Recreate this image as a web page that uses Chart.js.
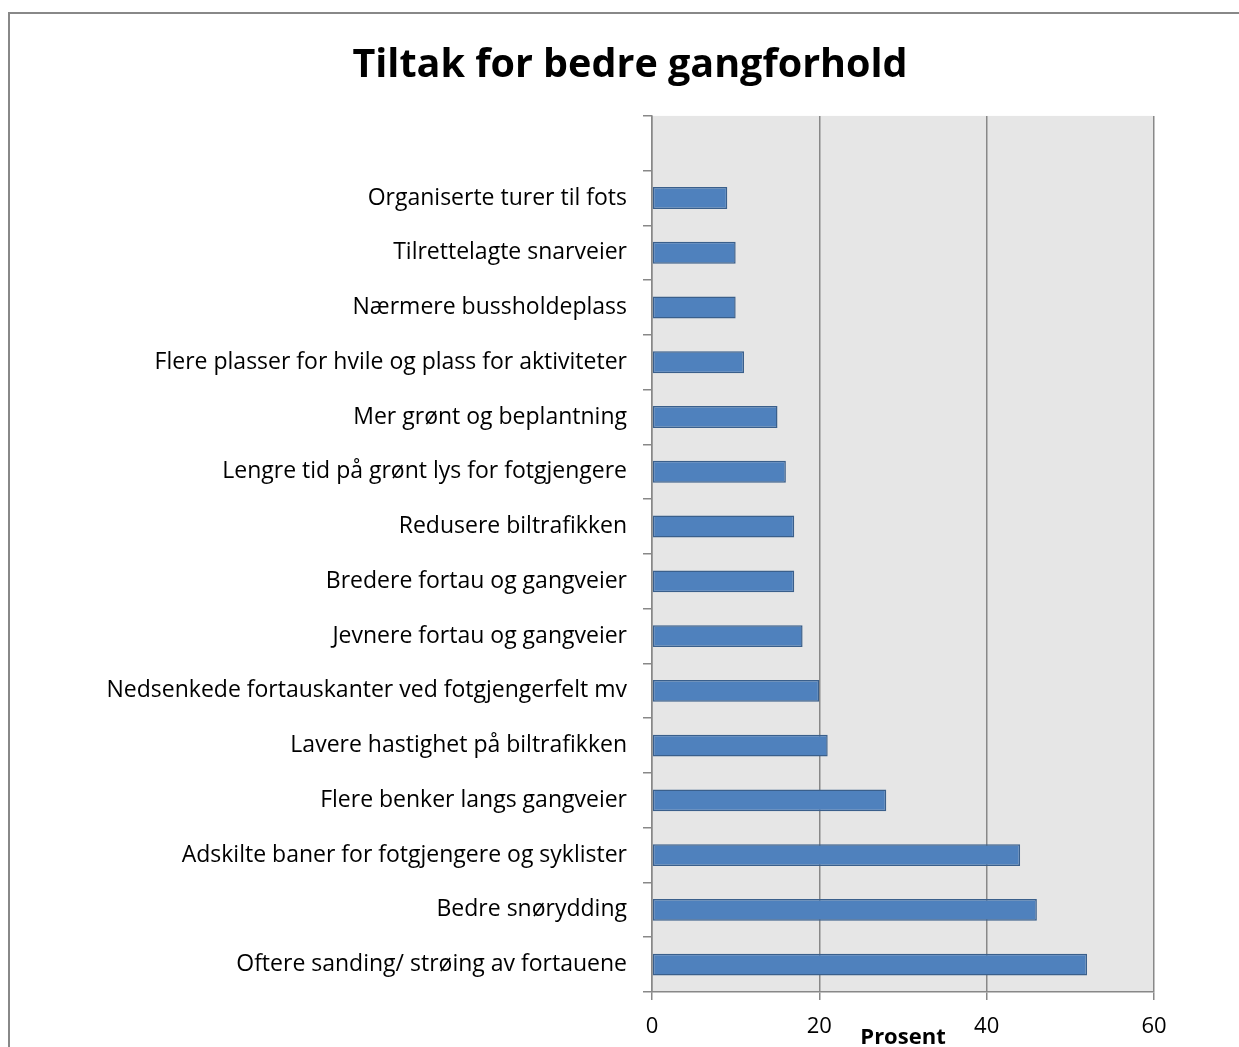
<!DOCTYPE html>
<html>
<head>
<meta charset="utf-8">
<script src="https://cdn.jsdelivr.net/npm/chart.js@4"></script>
<style>
  html, body { margin: 0; padding: 0; overflow: hidden; background: #fff; }
  #frame { position: absolute; left: 8px; top: 12px; width: 1300px; height: 1100px;
           border-left: 2px solid #888; border-top: 2px solid #888; }
  #wrap { position: absolute; left: 11px; top: 15px; width: 1238px; height: 1032px; }
</style>
</head>
<body>
<div id="frame"></div>
<div id="wrap"><canvas id="chart" width="1238" height="1032"></canvas></div>
<script>
// Categories from top to bottom (first slot is empty in the original)
const categories = ['', 'Organiserte turer til fots', 'Tilrettelagte snarveier', 'Nærmere bussholdeplass',
    'Flere plasser for hvile og plass for aktiviteter', 'Mer grønt og beplantning',
    'Lengre tid på grønt lys for fotgjengere', 'Redusere biltrafikken', 'Bredere fortau og gangveier',
    'Jevnere fortau og gangveier', 'Nedsenkede fortauskanter ved fotgjengerfelt mv',
    'Lavere hastighet på biltrafikken', 'Flere benker langs gangveier',
    'Adskilte baner for fotgjengere og syklister', 'Bedre snørydding', 'Oftere sanding/ strøing av fortauene'];
const percent = [null, 9, 10, 10, 11, 15, 16, 17, 17, 18, 20, 21, 28, 44, 46, 52];
const xTicks = [0, 20, 40, 60];

const FONT = '"Open Sans", sans-serif';

const plotBg = {
    id: 'plotBg',
    beforeDraw(chart) {
        const { ctx, chartArea: a } = chart;
        ctx.save();
        ctx.fillStyle = '#e6e6e6';
        ctx.fillRect(a.left, a.top, a.right - a.left, a.bottom - a.top);
        ctx.restore();
    }
};

new Chart(document.getElementById('chart').getContext('2d'), {
    type: 'bar',
    data: {
        labels: categories,
        datasets: [{
            label: 'Prosent',
            data: percent,
            backgroundColor: '#4f81bd',
            borderColor: '#3a5f8b',
            borderWidth: 1.5,
            borderSkipped: false,
            barPercentage: 0.4,
            categoryPercentage: 1
        }]
    },
    options: {
        indexAxis: 'y',
        responsive: false,
        animation: false,
        layout: { padding: { left: 95, right: 95, top: 0, bottom: 0 } },
        scales: {
            x: {
                min: 0, max: 60,
                afterBuildTicks: s => { s.ticks = xTicks.map(v => ({ value: v })); },
                afterFit: s => { s.height = 55; },
                grid: { color: '#888', lineWidth: 1.5, tickLength: 8 },
                border: { color: '#888', width: 1.5 },
                ticks: { color: '#000', font: { family: FONT, size: 22 }, padding: 14 },
                title: {
                    display: true, text: 'Prosent', color: '#000',
                    font: { family: FONT, size: 22, weight: 'bold' },
                    padding: { top: 0, bottom: -4 }
                }
            },
            y: {
                afterFit: s => { s.width = 546; },
                grid: { drawOnChartArea: false, color: '#888', lineWidth: 1.5, tickLength: 9, offset: true },
                border: { color: '#888', width: 1.5 },
                ticks: { color: '#000', font: { family: FONT, size: 23 }, padding: 16 }
            }
        },
        plugins: {
            legend: { display: false },
            tooltip: { enabled: false },
            title: {
                display: true,
                text: 'Tiltak for bedre gangforhold',
                color: '#000',
                font: { family: FONT, size: 39.5, weight: 'bold' },
                padding: { top: 27, bottom: 26.5 }
            }
        }
    },
    plugins: [plotBg]
});
</script>
</body>
</html>
